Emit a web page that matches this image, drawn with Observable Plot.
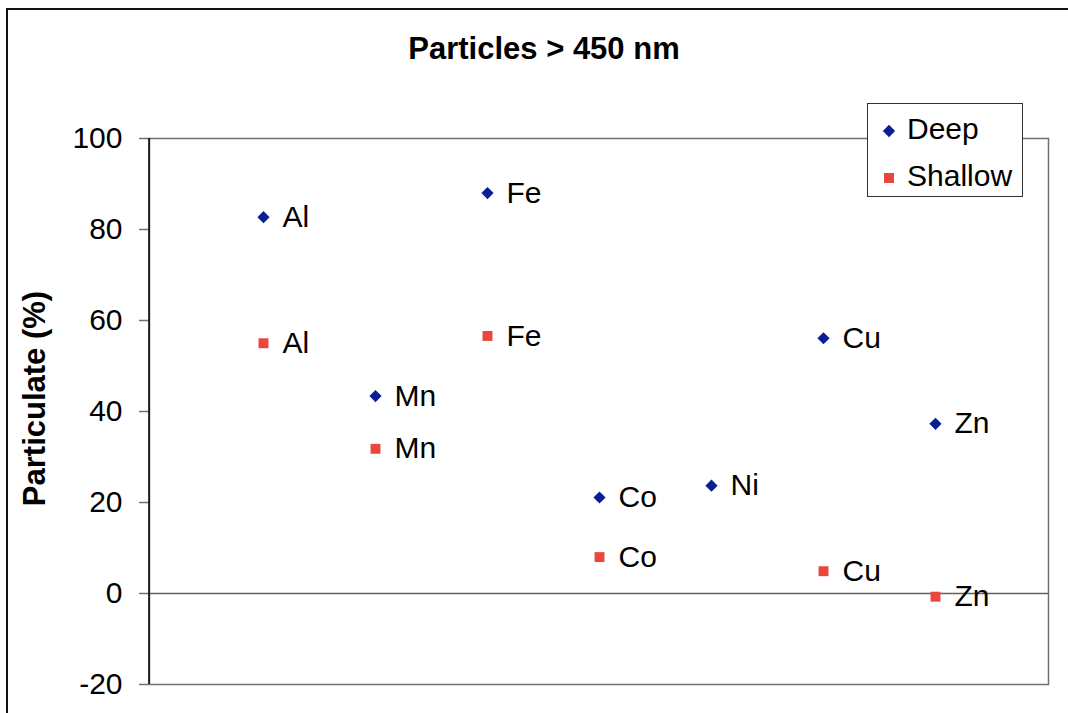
<!DOCTYPE html>
<html>
<head>
<meta charset="utf-8">
<script src="https://cdn.jsdelivr.net/npm/d3@7"></script>
<script src="https://cdn.jsdelivr.net/npm/@observablehq/plot@0.6"></script>
<style>
  html, body { margin: 0; padding: 0; background: #fff; }
  #wrap { position: relative; width: 1068px; height: 713px; overflow: hidden; font-family: "Liberation Sans", Arial, sans-serif; }
  #outer { position: absolute; left: 6px; top: 8px; width: 1100px; height: 800px; border-top: 2px solid #111; border-left: 2px solid #111; box-sizing: border-box; pointer-events: none; }
  #legend { position: absolute; left: 867px; top: 103px; width: 156px; height: 94px; background: #fff; border: 1px solid #333; box-sizing: border-box; }
  #legend svg { position: absolute; left: 0; top: 0; }
</style>
</head>
<body>
<div id="wrap">
  <div id="chart"></div>
  <div id="outer"></div>
  <div id="legend"></div>
</div>
<script>
const elements = ["Al", "Mn", "Fe", "Co", "Ni", "Cu", "Zn"];
const deep = [82.7, 43.4, 88.0, 21.1, 23.7, 56.1, 37.3];
const shallow = [55.0, 31.8, 56.6, 8.0, null, 4.9, -0.7];
const seriesNames = ["Deep", "Shallow"];
const seriesColors = ["#0A1E96", "#E8463E"];
const yTicks = [-20, 0, 20, 40, 60, 80, 100];
const title = "Particles > 450 nm";
const yLabel = "Particulate (%)";

const rows = [];
elements.forEach((e, i) => {
  if (deep[i] != null) rows.push({element: e, value: deep[i], series: "Deep"});
  if (shallow[i] != null) rows.push({element: e, value: shallow[i], series: "Shallow"});
});
const deepRows = rows.filter(d => d.series === "Deep");
const shallowRows = rows.filter(d => d.series === "Shallow");

const font = "Liberation Sans, Arial, sans-serif";

const chart = Plot.plot({
  width: 1068,
  height: 713,
  marginLeft: 149,
  marginRight: 20,
  marginTop: 138,
  marginBottom: 29,
  style: {fontFamily: font, fontSize: "30px", color: "#000", background: "transparent"},
  x: {type: "point", domain: elements, padding: 1, axis: null},
  y: {domain: [-20, 100], ticks: yTicks, label: null},
  marks: [
    Plot.frame({stroke: "#707070", strokeWidth: 1.5}),
    Plot.ruleY([0], {stroke: "#606060", strokeWidth: 1.5}),
    Plot.axisY({ticks: yTicks, tickSize: 10, tickPadding: 17, fontSize: 30, stroke: "#707070", strokeWidth: 1.5, label: null, tickFormat: d => String(d)}),
    Plot.dot(deepRows, {x: "element", y: "value", symbol: "diamond2", r: 5.5, fill: seriesColors[0], stroke: "none"}),
    Plot.dot(shallowRows, {x: "element", y: "value", symbol: "square", r: 5.6, fill: seriesColors[1], stroke: "none"}),
    Plot.text(rows, {x: "element", y: "value", text: "element", dx: 19, textAnchor: "start", lineAnchor: "middle", fontSize: 30, fill: "#000"}),
    Plot.text([title], {frameAnchor: "top", dx: -55, dy: -89, lineAnchor: "middle", fontSize: 31, fontWeight: "bold", fill: "#000"}),
    Plot.text([yLabel], {frameAnchor: "left", textAnchor: "middle", rotate: -90, dx: -114, dy: -13, lineAnchor: "middle", fontSize: 31, fontWeight: "bold", fill: "#000"})
  ]
});
document.getElementById("chart").appendChild(chart);

// left axis line in black
const svg = d3.select(chart);
svg.append("line")
  .attr("x1", 149).attr("x2", 149)
  .attr("y1", 138).attr("y2", 684)
  .attr("stroke", "#000").attr("stroke-width", 1.5);

// legend
const leg = d3.select("#legend").append("svg").attr("width", 156).attr("height", 94);
const sym = [d3.symbol(d3.symbolDiamond2, 96), d3.symbol(d3.symbolSquare, 100)];
seriesNames.forEach((name, i) => {
  const cy = 27 + i * 47;
  leg.append("path").attr("d", sym[i]()).attr("transform", `translate(21,${cy})`).attr("fill", seriesColors[i]);
  leg.append("text").attr("x", 39).attr("y", cy - 3).attr("dy", "0.36em")
    .attr("font-family", font).attr("font-size", 30).attr("fill", "#000").text(name);
});
</script>
</body>
</html>
